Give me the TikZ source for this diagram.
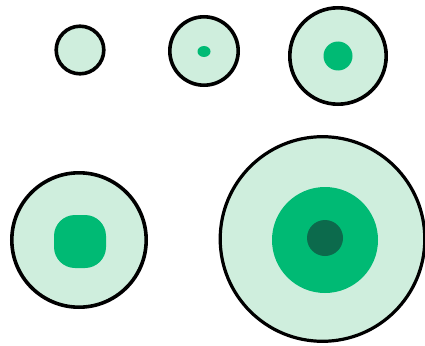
\documentclass[tikz,border=0pt]{standalone}
\definecolor{pale}{HTML}{CFEEDD}
\definecolor{mid}{HTML}{00BA74}
\definecolor{deep}{HTML}{0C6A4C}
\begin{document}
\begin{tikzpicture}[x=1pt,y=-1pt,
  cell/.style={draw=black,line width=3.6pt,fill=pale},
  core/.style={fill=mid},
  nucleus/.style={fill=deep}]
\useasboundingbox (0,0) rectangle (425,345);
\fill[white] (0,0) rectangle (425,345);
\draw[cell] (80,50) circle (23.8);
\draw[cell] (204,51) circle (34.2);
\fill[core] (204,51.5) ellipse (6.5 and 5.5);
\draw[cell] (338,56) circle (48.2);
\fill[core] (338,56) circle (14.5);
\draw[cell] (79,240) circle (67.2);
\fill[core,rounded corners=21] (54,215) rectangle (106,268);
\draw[cell,line width=3.2pt] (322.5,239) circle (102.3);
\fill[core] (325,240) circle (53);
\fill[nucleus] (325,238) circle (18);
\end{tikzpicture}
\end{document}
